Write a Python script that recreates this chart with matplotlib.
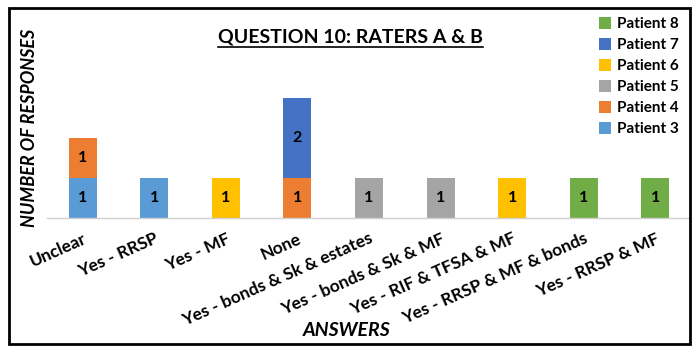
import matplotlib
matplotlib.use("Agg")
import matplotlib.pyplot as plt
import numpy as np
from matplotlib.patches import Rectangle
from matplotlib.lines import Line2D

categories = ["Unclear", "Yes - RRSP", "Yes - MF", "None",
              "Yes - bonds & Sk & estates", "Yes - bonds & Sk & MF",
              "Yes - RIF & TFSA & MF", "Yes - RRSP & MF & bonds",
              "Yes - RRSP & MF"]
patients = ["Patient 3", "Patient 4", "Patient 5", "Patient 6", "Patient 7", "Patient 8"]
p3 = [1, 1, 0, 0, 0, 0, 0, 0, 0]
p4 = [1, 0, 0, 1, 0, 0, 0, 0, 0]
p5 = [0, 0, 0, 0, 1, 1, 0, 0, 0]
p6 = [0, 0, 1, 0, 0, 0, 1, 0, 0]
p7 = [0, 0, 0, 2, 0, 0, 0, 0, 0]
p8 = [0, 0, 0, 0, 0, 0, 0, 1, 1]
series = [p3, p4, p5, p6, p7, p8]
colors = ["#5B9BD5", "#ED7D31", "#A5A5A5", "#FFC000", "#4472C4", "#70AD47"]

plt.rcParams['font.family'] = ['Lato', 'DejaVu Sans']
plt.rcParams['font.weight'] = 'bold'

W, H = 700, 354
fig = plt.figure(figsize=(7, 3.54), dpi=100)
ax = fig.add_axes([47 / W, (H - 218) / H, 644 / W, 140 / H])

x = np.arange(len(categories))
bottom = np.zeros(len(categories))
handles = []
for name, vals, c in zip(patients, series, colors):
    vals = np.array(vals, dtype=float)
    bars = ax.bar(x, vals, width=0.39, bottom=bottom, color=c, label=name)
    for b, v, b0 in zip(bars, vals, bottom):
        if v > 0:
            ax.text(b.get_x() + b.get_width() / 2, b0 + v / 2, f"{int(v)}",
                    ha="center", va="center", fontsize=11.5, fontweight="bold")
    bottom += vals
    handles.append(bars)

ax.set_xlim(-0.5, len(categories) - 0.5)
ax.set_ylim(0, 3.5)
ax.set_yticks([])
ax.set_xticks(x)
ax.set_xticklabels(categories, rotation=24, ha="right", rotation_mode="anchor",
                   fontsize=12.5, fontweight="bold")
ax.tick_params(axis="x", length=0, pad=9)
for s in ["top", "right", "left"]:
    ax.spines[s].set_visible(False)
ax.spines["bottom"].set_color("#D0D0D0")
ax.spines["bottom"].set_linewidth(1)

leg = fig.legend(handles[::-1], patients[::-1], loc="upper right",
                 bbox_to_anchor=(688 / W, (H - 8) / H), frameon=False,
                 prop={"size": 11, "weight": "bold"}, handlelength=0.8,
                 handleheight=0.8, handletextpad=0.4, labelspacing=0.45,
                 borderaxespad=0.2)

title = fig.text(350 / W, (H - 37) / H, "QUESTION 10: RATERS A & B", ha="center",
                 va="center", fontsize=14, fontweight="bold")
fig.text(30 / W, (H - 128) / H, "NUMBER OF RESPONSES", rotation=90, ha="center",
         va="center", fontsize=13, fontweight="bold", style="italic")
fig.text(347 / W, (H - 330) / H, "ANSWERS", ha="center", va="center",
         fontsize=14, fontweight="bold", style="italic")

# underline title
fig.canvas.draw()
bb = title.get_window_extent().transformed(fig.transFigure.inverted())
fig.add_artist(Line2D([bb.x0, bb.x1], [bb.y0 - 0.004, bb.y0 - 0.004],
                      transform=fig.transFigure, color="black", lw=1.2))

fig.add_artist(Rectangle((9 / W, 10 / H), 681 / W, 336 / H, transform=fig.transFigure,
                         fill=False, edgecolor="black", lw=2))

fig.savefig("out.png", dpi=100)
